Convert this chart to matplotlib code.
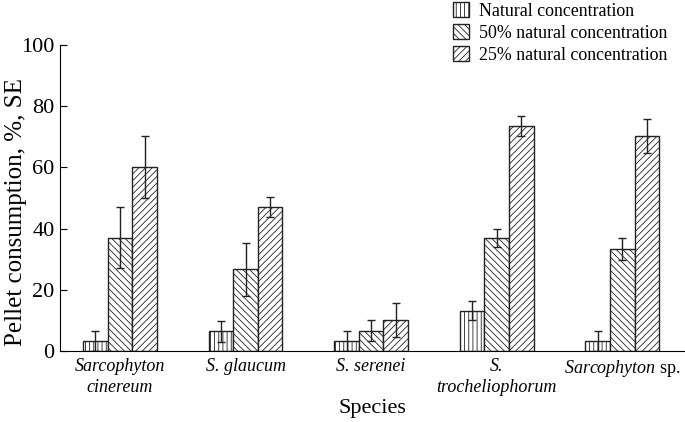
import matplotlib
matplotlib.use("Agg")
import matplotlib.pyplot as plt
import numpy as np

plt.rcParams["font.family"] = ["Liberation Serif", "DejaVu Serif"]
plt.rcParams["mathtext.fontset"] = "custom"
plt.rcParams["mathtext.rm"] = "Liberation Serif"
plt.rcParams["mathtext.it"] = "Liberation Serif:italic"
plt.rcParams["hatch.linewidth"] = 0.6

species = ["Sarcophyton\ncinereum", "S. glaucum", "S. serenei",
           "S.\ntrocheliophorum", r"$\it{Sarcophyton}$ sp."]
series_names = ["Natural concentration", "50% natural concentration",
                "25% natural concentration"]

natural = [3.3, 6.5, 3.3, 13.2, 3.3]
natural_se = [3.2, 3.4, 3.2, 3.2, 3.2]
half = [37.0, 26.7, 6.6, 37.0, 33.4]
half_se = [10.0, 8.7, 3.4, 3.0, 3.5]
quarter = [60.1, 47.0, 10.1, 73.5, 70.3]
quarter_se = [10.0, 3.3, 5.6, 3.3, 5.6]

hatches = ["||||", "\\\\\\\\\\", "/////"]

fig = plt.figure(figsize=(6.85, 4.22), dpi=100)
ax = fig.add_axes([60 / 685, 1 - 351 / 422, 625 / 685, (351 - 45) / 422])

x = np.arange(len(species))
width = 0.196
values = [natural, half, quarter]
errors = [natural_se, half_se, quarter_se]

for i, (vals, errs) in enumerate(zip(values, errors)):
    pos = x + (i - 1) * width
    ax.bar(pos, vals, width, color="white", edgecolor="#222222", linewidth=1.0,
           hatch=hatches[i], label=series_names[i])
    ax.errorbar(pos, vals, yerr=errs, fmt="none", ecolor="#222222",
                elinewidth=1.0, capsize=3, capthick=1.0)

ax.set_xlim(-0.478, 4.50)
ax.set_ylim(0, 100)
ax.set_yticks([0, 20, 40, 60, 80, 100])
ax.tick_params(axis="y", direction="in", length=5, labelsize=16, pad=4)
ax.tick_params(axis="x", length=0, labelsize=13, pad=5)
ax.set_xticks(x)
labels = ax.set_xticklabels(species, linespacing=1.3)
for lab in labels[:4]:
    lab.set_fontstyle("italic")

ax.spines["top"].set_visible(False)
ax.spines["right"].set_visible(False)

ax.set_ylabel("Pellet consumption, %, SE", fontsize=18)
ax.yaxis.set_label_coords(-0.052, 0.455)
ax.set_xlabel("Species", fontsize=16, labelpad=2)

fig.legend(loc="upper left", bbox_to_anchor=(446 / 685, 1.012), frameon=False,
           fontsize=12.9, handlelength=0.88, handleheight=0.88, handletextpad=0.55,
           labelspacing=0.25, borderaxespad=0)

fig.savefig("out.png", dpi=100)
